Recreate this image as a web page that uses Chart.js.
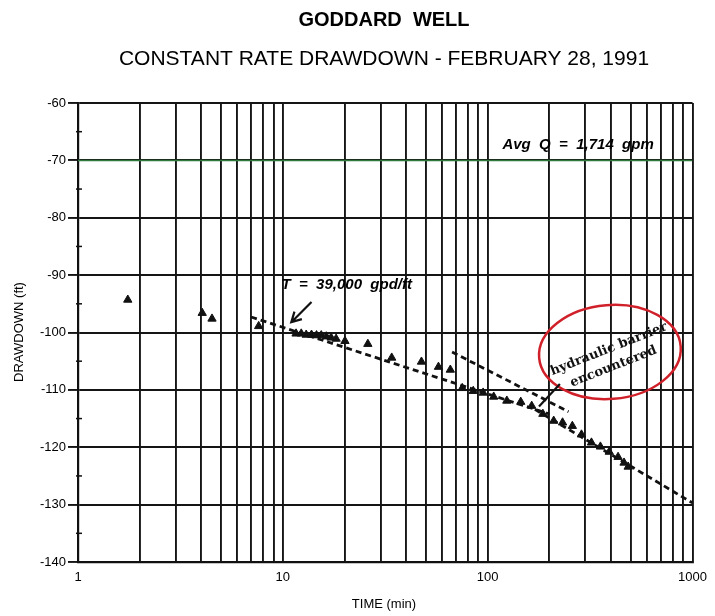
<!DOCTYPE html>
<html>
<head>
<meta charset="utf-8">
<script src="https://cdn.jsdelivr.net/npm/chart.js@4.4.1/dist/chart.umd.min.js"></script>
<style>
  html, body { margin: 0; padding: 0; background: #fff; }
  #wrap { width: 715px; height: 616px; }
</style>
</head>
<body>
<div id="wrap"><canvas id="chart" width="715" height="616"></canvas></div>
<script>
// measured drawdown (ft) against time since pumping started (min)
const timeMin = [1.75, 4.04, 4.51, 7.62, 11.6, 12.3, 13.0, 13.8, 14.6, 15.4, 16.3, 17.2, 18.2, 20.1, 26.0,
  34.0, 47.5, 57.5, 65.7, 75.1, 85.0, 95.0, 107, 124, 145, 164, 186, 210, 232, 259, 287, 321, 355, 392, 433, 463, 485];
const drawdownFt = [-94.3, -96.6, -97.6, -98.9, -100.2, -100.2, -100.4, -100.4, -100.5, -100.5, -100.7, -100.9, -101.1, -101.5, -102.0,
  -104.4, -105.1, -106.0, -106.5, -109.7, -110.2, -110.5, -111.2, -111.9, -112.1, -112.8, -114.2, -115.4, -115.7, -116.3, -117.8, -119.2, -119.9, -120.8, -121.7, -122.7, -123.4];

// hand drawn straight line fits
const fitEarlyTime = [7.0, 200];
const fitEarlyDraw = [-97.3, -114.2];
const fitUpperTime = [67, 248];
const fitUpperDraw = [-103.4, -113.8];
const fitLateTime = [170, 1000];
const fitLateDraw = [-113.4, -129.7];

// average pumping rate reference line
const avgQTime = [1, 1000];
const avgQDraw = [-70, -70];

const xTickLabels = [1, 10, 100, 1000];
const yMin = -140, yMax = -60;

function toPoints(xs, ys) {
  var pts = [];
  for (var i = 0; i < xs.length; i++) pts.push({ x: xs[i], y: ys[i] });
  return pts;
}

function logGridValues() {
  var vals = [];
  for (var d = 1; d < 1000; d *= 10) {
    for (var k = 1; k < 10; k++) vals.push(k * d);
  }
  vals.push(1000);
  return vals;
}

var dashed = { borderColor: '#111', borderWidth: 2.8, borderDash: [6, 4], pointRadius: 0, showLine: true, fill: false };

var notes = {
  id: 'notes',
  afterDraw(chart) {
    var ctx = chart.ctx, xs = chart.scales.x, ys = chart.scales.y;
    ctx.save();
    ctx.fillStyle = '#000';
    ctx.textAlign = 'center';
    ctx.textBaseline = 'alphabetic';
    ctx.font = 'bold 20px "Liberation Sans", Arial, sans-serif';
    ctx.fillText('GODDARD  WELL', 384, 26);
    ctx.font = '21px "Liberation Sans", Arial, sans-serif';
    ctx.fillText('CONSTANT RATE DRAWDOWN - FEBRUARY 28, 1991', 384, 65);

    // axis titles
    ctx.font = '13px "Liberation Sans", Arial, sans-serif';
    ctx.fillText('TIME (min)', 384, 608);
    ctx.save();
    ctx.translate(23, 332);
    ctx.rotate(-Math.PI / 2);
    ctx.fillText('DRAWDOWN (ft)', 0, 0);
    ctx.restore();

    // minor ticks on the drawdown axis
    ctx.strokeStyle = '#111';
    ctx.lineWidth = 1.5;
    for (var v = yMin + 5; v < yMax; v += 10) {
      var py = ys.getPixelForValue(v);
      ctx.beginPath();
      ctx.moveTo(xs.left - 2, py);
      ctx.lineTo(xs.left + 4, py);
      ctx.stroke();
    }

    // annotations
    ctx.font = 'italic bold 15px "Liberation Sans", Arial, sans-serif';
    ctx.textAlign = 'left';
    ctx.textBaseline = 'middle';
    ctx.fillText('Avg  Q  =  1,714  gpm', xs.getPixelForValue(118), ys.getPixelForValue(-67.3));
    ctx.fillText('T  =  39,000  gpd/ft', xs.getPixelForValue(9.85), ys.getPixelForValue(-91.7));

    // arrow to the early time fit
    var ax0 = xs.getPixelForValue(13.8), ay0 = ys.getPixelForValue(-94.7);
    var ax1 = xs.getPixelForValue(11.0), ay1 = ys.getPixelForValue(-98.2);
    ctx.lineWidth = 2.2;
    ctx.beginPath();
    ctx.moveTo(ax0, ay0);
    ctx.lineTo(ax1, ay1);
    var ang = Math.atan2(ay1 - ay0, ax1 - ax0);
    ctx.moveTo(ax1 - 11 * Math.cos(ang - 0.5), ay1 - 11 * Math.sin(ang - 0.5));
    ctx.lineTo(ax1, ay1);
    ctx.lineTo(ax1 - 11 * Math.cos(ang + 0.5), ay1 - 11 * Math.sin(ang + 0.5));
    ctx.stroke();

    // red ellipse with the barrier note
    var cx = xs.getPixelForValue(395), cy = ys.getPixelForValue(-103.4);
    ctx.strokeStyle = '#d0202a';
    ctx.lineWidth = 2.5;
    ctx.beginPath();
    ctx.ellipse(cx, cy, 71, 47, -0.08, 0, Math.PI * 2);
    ctx.stroke();

    ctx.strokeStyle = '#111';
    ctx.lineWidth = 2.2;
    ctx.beginPath();
    ctx.moveTo(xs.getPixelForValue(178), ys.getPixelForValue(-112.9));
    ctx.lineTo(cx - 50, cy + 32);
    ctx.stroke();

    ctx.save();
    ctx.translate(cx, cy);
    ctx.rotate(-21.5 * Math.PI / 180);
    ctx.textAlign = 'center';
    ctx.font = 'bold 13px "DejaVu Serif", "Liberation Serif", serif';
    ctx.fillStyle = '#111';
    ctx.fillText('hydraulic barrier', 0, -3);
    ctx.fillText('encountered', -2, 15);
    ctx.restore();
    ctx.restore();
  }
};

new Chart(document.getElementById('chart'), {
  type: 'scatter',
  data: {
    datasets: [
      { data: toPoints(avgQTime, avgQDraw), borderColor: '#2f7a3c', borderWidth: 1.5, pointRadius: 0, showLine: true },
      Object.assign({ data: toPoints(fitEarlyTime, fitEarlyDraw) }, dashed),
      Object.assign({ data: toPoints(fitUpperTime, fitUpperDraw) }, dashed),
      Object.assign({ data: toPoints(fitLateTime, fitLateDraw) }, dashed),
      { data: toPoints(timeMin, drawdownFt), pointStyle: 'triangle', pointRadius: 4.8, backgroundColor: '#111', borderColor: '#111', borderWidth: 1 }
    ]
  },
  options: {
    responsive: false,
    animation: false,
    layout: { padding: { top: 103, right: 18, left: 0, bottom: 0 } },
    plugins: { legend: { display: false }, tooltip: { enabled: false } },
    scales: {
      x: {
        type: 'logarithmic',
        min: 1,
        max: 1000,
        afterBuildTicks(scale) {
          scale.ticks = logGridValues().map(function (v) { return { value: v }; });
        },
        afterFit(scale) { scale.height = 54; },
        grid: { color: '#151515', lineWidth: 1.9, drawTicks: false },
        border: { color: '#111', width: 2.2 },
        ticks: {
          autoSkip: false,
          maxRotation: 0,
          padding: 8,
          color: '#000',
          font: { family: '"Liberation Sans", Arial, sans-serif', size: 13 },
          callback: function (v) { return xTickLabels.indexOf(v) >= 0 ? String(v) : ''; }
        }
      },
      y: {
        min: yMin,
        max: yMax,
        afterFit(scale) { scale.width = 78; },
        grid: { color: '#151515', lineWidth: 1.9, tickLength: 10 },
        border: { color: '#111', width: 2.2 },
        ticks: {
          stepSize: 10,
          padding: 2,
          color: '#000',
          font: { family: '"Liberation Sans", Arial, sans-serif', size: 13 }
        }
      }
    }
  },
  plugins: [notes]
});
</script>
</body>
</html>
